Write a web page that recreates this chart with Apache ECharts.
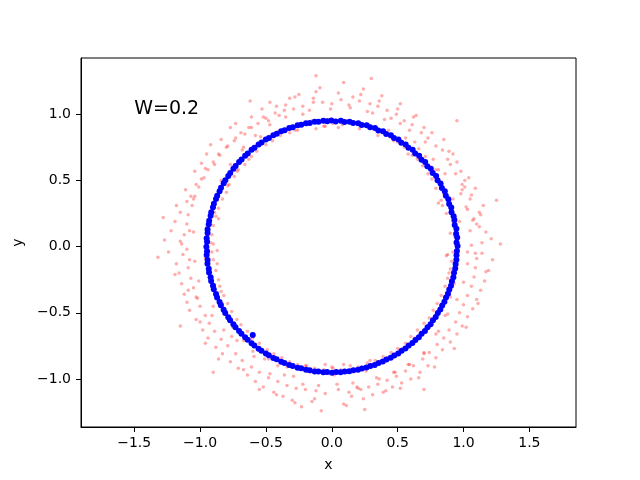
<!DOCTYPE html>
<html>
<head>
<meta charset="utf-8">
<script src="https://cdn.jsdelivr.net/npm/echarts@6/dist/echarts.min.js"></script>
<style>
  html, body { margin: 0; padding: 0; background: #fff; }
  #chart { width: 640px; height: 480px; }
</style>
</head>
<body>
<div id="chart"></div>
<script>
// tick labels
const xTicks = [-1.5, -1.0, -0.5, 0.0, 0.5, 1.0, 1.5]
const yTicks = [-1.0, -0.5, 0.0, 0.5, 1.0]
const noteText = 'W=0.2'
const notePos = [-1.5, 1.0]

// noisy samples (red, faint)
const redPoints = [
  [1.09,-0.05],[0.93,0.08],[1.17,0.11],[0.96,0.02],[1.12,0.15],[1.03,-0.04],
  [1.08,0.21],[0.90,0.10],[1.21,0.06],[1.02,0.30],[0.87,0.25],[1.10,0.17],
  [1.05,0.36],[0.92,0.19],[1.15,0.31],[0.85,0.40],[1.03,0.28],[1.09,0.44],
  [0.99,0.47],[0.83,0.35],[1.06,0.39],[0.94,0.55],[0.79,0.44],[1.01,0.50],
  [0.90,0.62],[0.76,0.51],[0.98,0.57],[0.88,0.66],[0.73,0.55],[0.92,0.70],
  [0.84,0.73],[0.69,0.61],[0.81,0.58],[0.79,0.76],[0.65,0.66],[0.85,0.81],
  [0.73,0.82],[0.61,0.69],[0.70,0.90],[0.68,0.86],[0.55,0.75],[0.71,0.79],
  [0.61,0.92],[0.50,0.79],[0.64,0.99],[0.55,0.95],[0.44,0.83],[0.59,0.88],
  [0.49,1.00],[0.38,0.86],[0.52,1.08],[0.42,1.03],[0.31,0.89],[0.45,0.97],
  [0.35,1.06],[0.25,0.92],[0.38,1.14],[0.29,1.08],[0.18,0.93],[0.31,1.01],
  [0.21,1.10],[0.11,0.95],[0.24,1.19],[0.13,1.07],[0.05,0.90],[0.16,1.13],
  [0.07,1.11],[-0.03,0.96],[0.09,1.24],
  [-0.07,1.09],[0.01,0.93],[-0.12,1.17],[-0.14,1.12],[-0.05,0.91],[-0.17,1.03],
  [-0.22,1.06],[-0.12,0.89],[-0.25,1.15],[-0.29,1.04],[-0.19,0.92],[-0.32,1.12],
  [-0.36,1.03],[-0.26,0.88],[-0.40,0.99],[-0.43,1.01],[-0.32,0.86],[-0.47,1.09],
  [-0.50,0.97],[-0.39,0.84],[-0.53,1.04],[-0.56,0.93],[-0.45,0.80],[-0.61,0.98],
  [-0.63,0.90],[-0.50,0.77],[-0.66,0.85],[-0.69,0.86],[-0.57,0.72],[-0.73,0.93],
  [-0.74,0.80],[-0.61,0.68],[-0.79,0.76],[-0.80,0.75],[-0.66,0.62],[-0.84,0.81],
  [-0.85,0.69],[-0.71,0.58],[-0.89,0.62],[-0.90,0.64],[-0.74,0.53],[-0.95,0.70],
  [-0.94,0.58],[-0.78,0.47],[-0.99,0.51],[-0.97,0.52],[-0.80,0.41],[-1.04,0.57],
  [-1.01,0.45],[-0.83,0.36],[-1.07,0.38],[-1.04,0.38],[-0.86,0.29],[-1.11,0.43],
  [-1.06,0.31],[-0.88,0.23],[-1.15,0.26],[-1.09,0.24],[-0.90,0.16],[-1.19,0.19],
  [-1.10,0.17],[-0.91,0.09],[-1.22,0.12],[-1.12,0.09],[-0.92,0.03],[-1.27,0.05],
  [-1.10,-0.02],[-0.90,0.02],[-1.24,-0.04],
  [-1.08,-0.10],[-0.91,-0.04],[-1.18,-0.13],[-1.09,-0.16],[-0.90,-0.10],[-1.16,-0.20],
  [-1.07,-0.24],[-0.88,-0.18],[-1.14,-0.28],[-1.05,-0.31],[-0.86,-0.25],[-1.12,-0.36],
  [-1.03,-0.38],[-0.85,-0.30],[-1.10,-0.42],[-1.00,-0.45],[-0.82,-0.37],[-1.08,-0.48],
  [-0.96,-0.52],[-0.79,-0.43],[-1.03,-0.55],[-0.93,-0.58],[-0.76,-0.49],[-0.98,-0.63],
  [-0.89,-0.64],[-0.72,-0.55],[-0.94,-0.69],[-0.84,-0.70],[-0.69,-0.59],[-0.88,-0.76],
  [-0.79,-0.75],[-0.64,-0.64],[-0.83,-0.81],[-0.73,-0.81],[-0.60,-0.69],[-0.77,-0.87],
  [-0.68,-0.86],[-0.55,-0.73],[-0.71,-0.92],[-0.61,-0.91],[-0.49,-0.78],[-0.64,-0.97],
  [-0.55,-0.95],[-0.44,-0.81],[-0.58,-1.02],[-0.48,-0.99],[-0.38,-0.84],[-0.52,-1.06],
  [-0.41,-1.02],[-0.32,-0.87],[-0.44,-1.10],[-0.34,-1.05],[-0.26,-0.89],[-0.37,-1.13],
  [-0.27,-1.07],[-0.20,-0.90],[-0.30,-1.16],[-0.20,-1.08],[-0.13,-0.92],[-0.23,-1.21],
  [-0.12,-1.09],[-0.06,-0.93],[-0.15,-1.17],[-0.05,-1.11],[0.01,-0.92],[-0.08,-1.24],
  [0.05,-1.08],[0.00,-0.91],[0.09,-1.19],[0.13,-1.10],[0.07,-0.93],[0.16,-1.03],
  [0.20,-1.07],[0.14,-0.90],[0.24,-1.15],[0.28,-1.06],[0.20,-0.91],[0.31,-1.12],
  [0.35,-1.04],[0.27,-0.88],[0.39,-1.10],[0.42,-1.01],[0.33,-0.86],[0.46,-1.06],
  [0.49,-0.98],[0.39,-0.83],[0.53,-1.03],[0.56,-0.94],[0.45,-0.80],[0.60,-1.00],
  [0.62,-0.90],[0.50,-0.77],[0.67,-0.95],[0.69,-0.85],[0.56,-0.73],[0.73,-0.90],
  [0.74,-0.80],[0.60,-0.68],[0.79,-0.84],[0.80,-0.74],[0.65,-0.63],[0.84,-0.78],
  [0.85,-0.69],[0.70,-0.58],[0.90,-0.72],[0.89,-0.63],[0.74,-0.54],[0.95,-0.66],
  [0.94,-0.57],[0.77,-0.48],[0.99,-0.60],[0.97,-0.50],[0.80,-0.43],[1.03,-0.53],
  [1.00,-0.44],[0.83,-0.37],[1.07,-0.47],[1.03,-0.37],[0.86,-0.30],[1.10,-0.40],
  [1.06,-0.30],[0.88,-0.24],[1.13,-0.33],[1.08,-0.23],[0.90,-0.17],[1.16,-0.26],
  [1.09,-0.16],[0.91,-0.11],[1.19,-0.18],[1.10,-0.09],[0.92,-0.04],[1.22,-0.10],
  [-0.12,1.29],[0.25,-1.23],[-1.28,0.22],[1.25,0.35],[0.95,0.95],[-0.90,-0.95],
  [-1.32,-0.08],[1.28,0.02],[0.30,1.27],[-0.62,1.10],[0.70,-1.08],[-1.15,-0.60],
  // second pass, interleaved
  [1.05,0.12],[0.88,-0.06],[1.14,0.03],[0.97,0.19],[0.94,0.09],[1.13,0.24],
  [1.07,0.20],[0.84,0.31],[0.98,0.40],[1.12,0.26],[0.81,0.33],[1.01,0.45],
  [1.04,0.52],[0.92,0.36],[0.79,0.58],[0.99,0.43],[0.95,0.64],[0.80,0.49],
  [0.71,0.68],[0.86,0.55],[0.89,0.72],[0.75,0.60],[0.63,0.79],[0.77,0.66],
  [0.76,0.86],[0.58,0.70],[0.66,0.74],[0.52,0.93],[0.62,0.98],[0.47,0.80],
  [0.40,0.96],[0.56,0.82],[0.50,1.04],[0.35,0.84],[0.27,1.02],[0.43,0.88],
  [0.36,1.10],[0.21,0.89],[0.14,1.05],[0.29,0.91],[0.22,1.15],[0.08,0.92],
  [0.00,1.08],[0.13,0.94],
  [0.05,1.16],[-0.06,0.91],[-0.01,1.04],[-0.15,0.95],[-0.09,1.20],[-0.21,0.93],
  [-0.14,1.09],[-0.28,0.88],[-0.22,1.00],[-0.35,1.07],[-0.28,1.13],[-0.41,0.87],
  [-0.35,0.98],[-0.48,0.95],[-0.42,1.06],[-0.54,0.83],[-0.47,0.92],[-0.61,0.90],
  [-0.52,0.98],[-0.67,0.75],[-0.58,0.84],[-0.73,0.82],[-0.77,0.90],[-0.63,0.66],
  [-0.68,0.73],[-0.86,0.70],[-0.92,0.77],[-0.72,0.57],[-0.77,0.62],[-0.96,0.59],
  [-0.99,0.63],[-0.79,0.46],[-0.84,0.50],[-1.03,0.47],[-1.10,0.34],[-0.85,0.42],
  [-0.89,0.26],[-1.05,0.36],[-1.18,0.31],[-0.93,0.19],[-0.86,0.21],[-1.08,0.12],
  [-1.14,0.02],[-0.95,0.15],[-1.05,0.11],[-0.87,-0.03],
  [-1.15,0.04],[-0.96,-0.09],[-0.87,-0.13],[-1.13,-0.06],[-1.04,-0.11],[-0.92,-0.25],
  [-1.19,-0.21],[-0.89,-0.29],[-1.01,-0.26],[-0.84,-0.34],[-1.09,-0.33],[-0.90,-0.45],
  [-0.81,-0.50],[-1.02,-0.39],[-1.00,-0.57],[-0.83,-0.43],[-0.75,-0.61],[-0.91,-0.52],
  [-0.96,-0.73],[-0.76,-0.68],[-0.67,-0.71],[-0.82,-0.63],[-0.86,-0.85],[-0.62,-0.70],
  [-0.72,-0.71],[-0.59,-0.83],[-0.67,-0.93],[-0.51,-0.85],[-0.60,-0.79],[-0.47,-0.96],
  [-0.55,-1.08],[-0.41,-0.90],[-0.36,-0.97],[-0.48,-0.85],[-0.42,-1.12],[-0.29,-0.98],
  [-0.22,-1.04],[-0.34,-0.91],[-0.28,-1.18],[-0.16,-0.95],[-0.10,-1.05],[-0.19,-0.90],
  [-0.13,-1.15],[-0.02,-0.96],
  [0.04,-1.04],[-0.05,-0.89],[0.11,-1.20],[0.02,-0.97],[0.19,-1.06],[0.09,-0.89],
  [0.15,-1.13],[0.26,-0.94],[0.34,-0.99],[0.22,-1.08],[0.29,-0.86],[0.41,-1.09],
  [0.47,-0.95],[0.36,-1.00],[0.52,-1.07],[0.42,-0.84],[0.59,-0.89],[0.48,-0.95],
  [0.66,-0.99],[0.54,-0.77],[0.70,-0.81],[0.58,-0.89],[0.78,-0.91],[0.63,-0.69],
  [0.81,-0.64],[0.70,-0.80],[0.93,-0.77],[0.73,-0.60],[0.88,-0.51],[0.79,-0.66],
  [1.02,-0.61],[0.81,-0.48],[0.95,-0.40],[0.86,-0.52],[1.11,-0.43],[0.87,-0.35],
  [1.00,-0.27],[0.90,-0.38],[1.17,-0.19],[0.93,-0.28],[1.03,-0.13],[0.89,-0.20],
  [1.14,-0.05],[0.95,-0.14],[1.06,0.01],[0.87,-0.07]
]

// recovered samples (blue)
const bluePoints = [
  [0.955,0.004],[0.947,0.031],[0.952,0.068],[0.944,0.097],[0.946,0.134],[0.933,0.163],
  [0.931,0.201],[0.925,0.229],[0.909,0.260],[0.907,0.296],[0.891,0.322],[0.885,0.358],
  [0.866,0.384],[0.858,0.419],[0.836,0.443],[0.826,0.477],[0.803,0.501],[0.792,0.534],
  [0.766,0.556],[0.752,0.588],[0.725,0.608],[0.709,0.639],[0.681,0.657],[0.663,0.686],
  [0.633,0.703],[0.614,0.731],[0.582,0.746],[0.561,0.772],[0.528,0.785],[0.506,0.809],
  [0.472,0.820],[0.449,0.842],[0.413,0.851],[0.389,0.871],[0.353,0.878],[0.328,0.896],
  [0.291,0.901],[0.265,0.916],[0.227,0.919],[0.201,0.932],[0.162,0.933],[0.135,0.944],
  [0.096,0.942],[0.069,0.951],[0.030,0.946],
  [-0.003,0.953],[-0.035,0.947],[-0.064,0.951],[-0.101,0.943],[-0.130,0.944],[-0.167,0.934],
  [-0.196,0.932],[-0.232,0.920],[-0.260,0.916],[-0.296,0.902],[-0.323,0.896],[-0.358,0.879],
  [-0.384,0.871],[-0.418,0.852],[-0.444,0.842],[-0.477,0.821],[-0.501,0.809],[-0.533,0.786],
  [-0.556,0.772],[-0.587,0.747],[-0.609,0.731],[-0.638,0.704],[-0.658,0.686],[-0.685,0.658],
  [-0.704,0.639],[-0.730,0.609],[-0.747,0.588],[-0.771,0.556],[-0.786,0.534],[-0.808,0.501],
  [-0.821,0.478],[-0.841,0.444],[-0.852,0.419],[-0.870,0.384],[-0.879,0.359],[-0.895,0.323],
  [-0.902,0.297],[-0.915,0.260],[-0.920,0.233],[-0.931,0.196],[-0.934,0.168],[-0.943,0.130],
  [-0.943,0.102],[-0.950,0.064],[-0.947,0.036],
  [-0.952,-0.002],[-0.947,-0.035],[-0.950,-0.064],[-0.943,-0.101],[-0.944,-0.130],[-0.934,-0.167],
  [-0.932,-0.196],[-0.920,-0.232],[-0.916,-0.260],[-0.902,-0.296],[-0.896,-0.323],[-0.879,-0.358],
  [-0.871,-0.384],[-0.852,-0.418],[-0.842,-0.444],[-0.821,-0.477],[-0.809,-0.501],[-0.786,-0.533],
  [-0.772,-0.556],[-0.747,-0.587],[-0.731,-0.609],[-0.704,-0.638],[-0.686,-0.658],[-0.658,-0.685],
  [-0.639,-0.704],[-0.609,-0.730],[-0.588,-0.747],[-0.556,-0.771],[-0.534,-0.786],[-0.501,-0.808],
  [-0.478,-0.821],[-0.444,-0.841],[-0.419,-0.852],[-0.384,-0.870],[-0.359,-0.879],[-0.323,-0.895],
  [-0.297,-0.902],[-0.260,-0.915],[-0.233,-0.920],[-0.196,-0.931],[-0.168,-0.934],[-0.130,-0.943],
  [-0.102,-0.943],[-0.064,-0.950],[-0.036,-0.947],
  [0.002,-0.953],[0.034,-0.948],[0.067,-0.950],[0.098,-0.944],[0.133,-0.942],[0.164,-0.935],
  [0.199,-0.930],[0.229,-0.921],[0.263,-0.914],[0.293,-0.903],[0.326,-0.894],[0.355,-0.880],
  [0.387,-0.869],[0.415,-0.853],[0.447,-0.840],[0.474,-0.822],[0.504,-0.807],[0.530,-0.787],
  [0.559,-0.770],[0.584,-0.748],[0.612,-0.729],[0.635,-0.705],[0.661,-0.684],[0.682,-0.659],
  [0.707,-0.637],[0.727,-0.610],[0.750,-0.586],[0.768,-0.557],[0.789,-0.532],[0.805,-0.502],
  [0.824,-0.476],[0.838,-0.445],[0.855,-0.417],[0.867,-0.385],[0.882,-0.357],[0.892,-0.324],
  [0.905,-0.295],[0.912,-0.261],[0.923,-0.231],[0.928,-0.197],[0.937,-0.166],[0.940,-0.131],
  [0.946,-0.100],[0.947,-0.065],[0.950,-0.034],
  [-0.600,-0.667]
]

const font = 'DejaVu Sans'
const fmt = v => v.toFixed(1).replace('-', '\u2212')

const chart = echarts.init(document.getElementById('chart'))

chart.setOption({
  animation: false,
  backgroundColor: '#fff',
  grid: {
    left: 81,
    right: 64,
    top: 58,
    bottom: 53,
    show: true,
    borderColor: '#000',
    borderWidth: 1
  },
  xAxis: {
    type: 'value',
    min: -1.904,
    max: 1.854,
    name: 'x',
    nameLocation: 'middle',
    nameGap: 31,
    nameTextStyle: { color: '#000', fontFamily: font, fontSize: 14 },
    axisLine: { show: true, onZero: false, lineStyle: { color: '#000', width: 1 } },
    axisTick: { show: true, length: 5, customValues: xTicks, lineStyle: { color: '#000' } },
    axisLabel: { customValues: xTicks, formatter: fmt, margin: 9, color: '#000', fontFamily: font, fontSize: 14 },
    splitLine: { show: false }
  },
  yAxis: {
    type: 'value',
    min: -1.363,
    max: 1.425,
    name: 'y',
    nameLocation: 'middle',
    nameGap: 56,
    nameTextStyle: { color: '#000', fontFamily: font, fontSize: 14 },
    axisLine: { show: true, onZero: false, lineStyle: { color: '#000', width: 1 } },
    axisTick: { show: true, length: 5, customValues: yTicks, lineStyle: { color: '#000' } },
    axisLabel: { customValues: yTicks, formatter: fmt, margin: 10, color: '#000', fontFamily: font, fontSize: 14 },
    splitLine: { show: false }
  },
  series: [
    {
      name: 'noisy',
      type: 'scatter',
      symbolSize: 3.5,
      itemStyle: { color: '#ff0000', opacity: 0.32 },
      data: redPoints
    },
    {
      name: 'recovered',
      type: 'scatter',
      symbolSize: 6,
      itemStyle: { color: '#0000ff', opacity: 1 },
      data: bluePoints
    }
  ]
})

// annotation anchored to data coords (left/baseline)
const p = chart.convertToPixel({ gridIndex: 0 }, notePos)
chart.setOption({
  graphic: [{
    type: 'text',
    x: p[0],
    y: p[1] + 4,
    style: {
      text: noteText,
      fill: '#000',
      font: '19px "DejaVu Sans"',
      align: 'left',
      verticalAlign: 'bottom',
      textAlign: 'left',
      textVerticalAlign: 'bottom'
    }
  }]
})
</script>
</body>
</html>
